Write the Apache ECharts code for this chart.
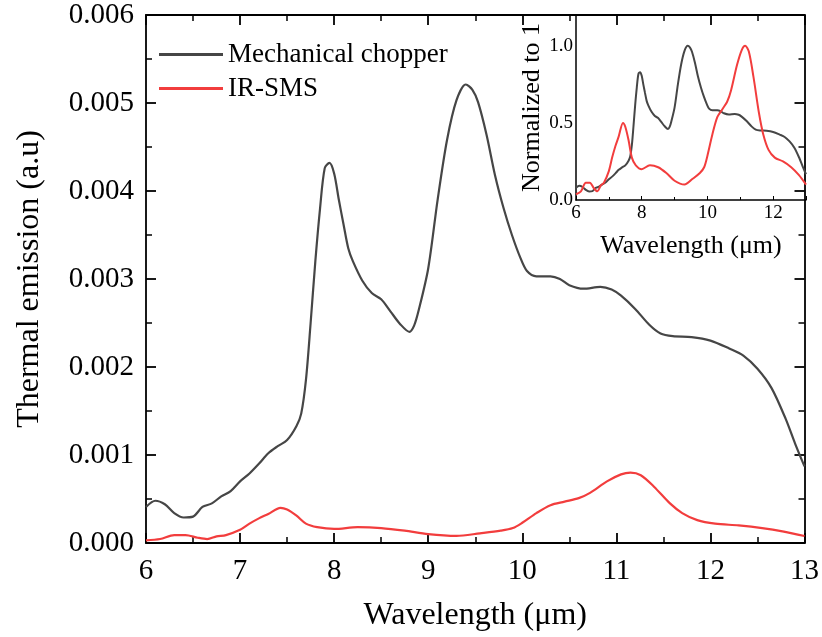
<!DOCTYPE html>
<html>
<head>
<meta charset="utf-8">
<script src="https://cdn.jsdelivr.net/npm/echarts@6/dist/echarts.min.js"></script>
<style>
  html, body { margin: 0; padding: 0; background: #fff; }
  #chart { width: 822px; height: 637px; }
</style>
</head>
<body>
<div id="chart"></div>
<script>
// wavelength (µm) and thermal emission (a.u)
let chopperX = [6.0, 6.1, 6.2, 6.3, 6.4, 6.5, 6.6, 6.7, 6.8, 6.9, 7.0, 7.1, 7.2, 7.3, 7.4, 7.5, 7.6, 7.65, 7.7, 7.75,
  7.8, 7.85, 7.9, 7.95, 8.0, 8.05, 8.1, 8.15, 8.2, 8.3, 8.4, 8.5, 8.6, 8.7, 8.8, 8.85, 8.9, 9.0, 9.1, 9.2,
  9.3, 9.4, 9.47, 9.53, 9.62, 9.71, 9.8, 9.89, 9.98, 10.05, 10.15, 10.3, 10.4, 10.5, 10.65, 10.83, 10.95, 11.05, 11.2, 11.35,
  11.47, 11.6, 11.8, 12.0, 12.2, 12.35, 12.5, 12.65, 12.8, 12.9, 13.0];
let chopperY = [0.00041, 0.00048, 0.00044, 0.00034, 0.00029, 0.0003, 0.00041, 0.00045, 0.00053, 0.00059, 0.0007, 0.00079, 0.0009, 0.00102, 0.0011, 0.00117, 0.00133, 0.00147, 0.00185, 0.0025,
  0.0032, 0.0038, 0.00426, 0.00432, 0.0042, 0.0039, 0.00362, 0.00335, 0.0032, 0.00298, 0.00284, 0.00277, 0.00263, 0.00249, 0.0024, 0.00247, 0.00265, 0.00312, 0.0039, 0.00458,
  0.00503, 0.00521, 0.00515, 0.00501, 0.00464, 0.00418, 0.00381, 0.0035, 0.00324, 0.00309, 0.00303, 0.00303, 0.003, 0.00293, 0.00289, 0.00291, 0.00288, 0.00281, 0.00266, 0.00248,
  0.00238, 0.00235, 0.00234, 0.0023, 0.00221, 0.00213, 0.00198, 0.00176, 0.00141, 0.00113, 0.00087];

let smsX = [6.0, 6.15, 6.3, 6.42, 6.55, 6.65, 6.75, 6.85, 7.0, 7.1, 7.2, 7.3, 7.43, 7.5, 7.6, 7.7, 7.82, 8.0, 8.25, 8.5,
  8.75, 9.0, 9.3, 9.55, 9.77, 9.9, 10.0, 10.15, 10.3, 10.45, 10.6, 10.72, 10.9, 11.05, 11.15, 11.26, 11.4, 11.57, 11.7, 11.86,
  12.05, 12.3, 12.55, 12.78, 13.0];
let smsY = [0.00003, 0.000045, 0.00009, 0.00009, 0.00006, 0.000045, 0.000075, 0.00009, 0.00015, 0.00022, 0.00028, 0.00033, 0.0004, 0.00038, 0.00031, 0.00022, 0.00018, 0.00016, 0.00018, 0.00017,
  0.00014, 0.0001, 0.00008, 0.00011, 0.00014, 0.00017, 0.00023, 0.00034, 0.00043, 0.00047, 0.00051, 0.00057, 0.0007, 0.00078, 0.0008, 0.00077, 0.00064, 0.00045, 0.00034, 0.00026,
  0.00022, 0.0002, 0.00017, 0.00013, 0.00008];

let names = ["Mechanical chopper", "IR-SMS"];
let colors = ["#464646", "#f23d3d"];

const FONT = "Liberation Serif";

function pairs(xs, ys) {
  return xs.map((x, i) => [x, ys[i]]);
}
// inset shows each curve divided by its own maximum
function normalized(xs, ys) {
  let m = Math.max(...ys);
  return xs.map((x, i) => [x, ys[i] / m]);
}

function frameAxis(extra) {
  return Object.assign({
    axisLine: { show: true, onZero: false, lineStyle: { color: "#000", width: 1.8 } },
    axisTick: { show: true, inside: true, length: 10, lineStyle: { color: "#000", width: 1.8 } },
    minorTick: { show: true, splitNumber: 2, length: 6, lineStyle: { color: "#000", width: 1.5 } },
    splitLine: { show: false },
    axisLabel: { show: false },
  }, extra);
}

let chart = echarts.init(document.getElementById("chart"));
let option = {
  animation: false,
  backgroundColor: "#fff",
  textStyle: { fontFamily: FONT, color: "#000" },
  legend: {
    orient: "vertical",
    left: 154,
    top: 36,
    itemWidth: 64,
    itemHeight: 3,
    itemGap: 7,
    icon: "rect",
    textStyle: { fontFamily: FONT, fontSize: 27, color: "#000" },
    data: names,
  },
  grid: [
    { left: 146, top: 15, right: 16, bottom: 91 },
    { left: 576, top: 15, right: 16, bottom: 437 },
  ],
  xAxis: [
    frameAxis({
      type: "value", gridIndex: 0, min: 6, max: 13, interval: 1, position: "bottom",
      name: "Wavelength (μm)", nameLocation: "middle", nameGap: 57,
      nameTextStyle: { fontFamily: FONT, fontSize: 32, color: "#000" },
      axisLabel: { show: true, margin: 14, fontFamily: FONT, fontSize: 29, color: "#000" },
    }),
    frameAxis({ type: "value", gridIndex: 0, min: 6, max: 13, interval: 1, position: "top" }),
    {
      type: "value", gridIndex: 1, min: 6, max: 13, interval: 2,
      name: "Wavelength (μm)", nameLocation: "middle", nameGap: 33,
      nameTextStyle: { fontFamily: FONT, fontSize: 26, color: "#000" },
      axisLine: { show: true, onZero: false, lineStyle: { color: "#000", width: 1.5 } },
      axisTick: { show: true, inside: true, length: 4, lineStyle: { color: "#000" } },
      minorTick: { show: true, splitNumber: 2, length: 3, lineStyle: { color: "#000" } },
      splitLine: { show: false },
      axisLabel: { margin: 4, fontFamily: FONT, fontSize: 19, color: "#000", showMaxLabel: false },
    },
  ],
  yAxis: [
    frameAxis({
      type: "value", gridIndex: 0, min: 0, max: 0.006, interval: 0.001, position: "left",
      name: "Thermal emission (a.u)", nameLocation: "middle", nameGap: 100,
      nameTextStyle: { fontFamily: FONT, fontSize: 32, color: "#000" },
      axisLabel: { show: true, margin: 12, fontFamily: FONT, fontSize: 29, color: "#000",
        formatter: (v) => v.toFixed(3) },
    }),
    frameAxis({ type: "value", gridIndex: 0, min: 0, max: 0.006, interval: 0.001, position: "right" }),
    {
      type: "value", gridIndex: 1, min: 0, max: 1.2, interval: 0.5,
      name: "Normalized to 1", nameLocation: "middle", nameGap: 30,
      nameTextStyle: { fontFamily: FONT, fontSize: 26, color: "#000" },
      axisLine: { show: true, onZero: false, lineStyle: { color: "#000", width: 1.5 } },
      axisTick: { show: false },
      splitLine: { show: false },
      axisLabel: { margin: 3, fontFamily: FONT, fontSize: 19, color: "#000", showMaxLabel: false,
        formatter: (v) => v.toFixed(1) },
    },
  ],
  series: [
    {
      name: names[0], type: "line", xAxisIndex: 0, yAxisIndex: 0, showSymbol: false, symbol: "none",
      smooth: 0.3, data: pairs(chopperX, chopperY), lineStyle: { color: colors[0], width: 2.2 },
      itemStyle: { color: colors[0] },
    },
    {
      name: names[1], type: "line", xAxisIndex: 0, yAxisIndex: 0, showSymbol: false, symbol: "none",
      smooth: 0.3, data: pairs(smsX, smsY), lineStyle: { color: colors[1], width: 2.2 },
      itemStyle: { color: colors[1] },
    },
    {
      name: names[0] + " (norm)", type: "line", xAxisIndex: 2, yAxisIndex: 2, showSymbol: false, symbol: "none",
      smooth: 0.3, data: normalized(chopperX, chopperY), lineStyle: { color: colors[0], width: 2 },
    },
    {
      name: names[1] + " (norm)", type: "line", xAxisIndex: 2, yAxisIndex: 2, showSymbol: false, symbol: "none",
      smooth: 0.3, data: normalized(smsX, smsY), lineStyle: { color: colors[1], width: 2 },
    },
  ],
};
chart.setOption(option);
window.addEventListener("resize", () => {
  chart.resize();
});
</script>
</body>
</html>
